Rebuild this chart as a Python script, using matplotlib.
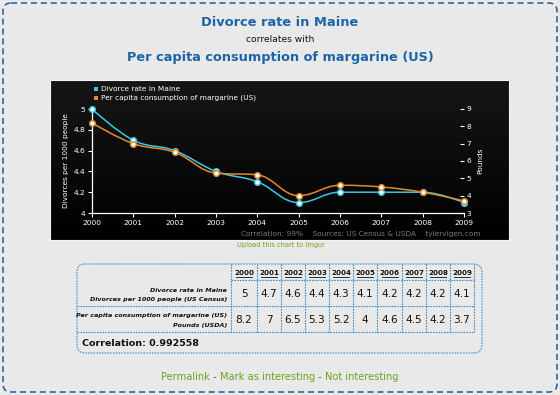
import matplotlib
matplotlib.use("Agg")
import matplotlib.pyplot as plt
import numpy as np
from matplotlib.patches import FancyBboxPatch, Rectangle, PathPatch
from matplotlib.path import Path
from matplotlib.colors import LinearSegmentedColormap
from matplotlib.offsetbox import TextArea, HPacker, AnchoredOffsetbox

years = [2000, 2001, 2002, 2003, 2004, 2005, 2006, 2007, 2008, 2009]
divorce = [5, 4.7, 4.6, 4.4, 4.3, 4.1, 4.2, 4.2, 4.2, 4.1]
margarine = [8.2, 7, 6.5, 5.3, 5.2, 4, 4.6, 4.5, 4.2, 3.7]
div_ticks = [4, 4.2, 4.4, 4.6, 4.8, 5]
div_ticklabels = ["4", "4.2", "4.4", "4.6", "4.8", "5"]
marg_ticks = [3, 4, 5, 6, 7, 8, 9]
series1_name = "Divorce rate in Maine"
series2_name = "Per capita consumption of margarine (US)"
div_table = ["5", "4.7", "4.6", "4.4", "4.3", "4.1", "4.2", "4.2", "4.2", "4.1"]
marg_table = ["8.2", "7", "6.5", "5.3", "5.2", "4", "4.6", "4.5", "4.2", "3.7"]

BLUE_T = "#1c64a8"
CYAN = "#3cc8e6"
ORANGE = "#e08c28"
GREEN = "#6fa21c"
DASH = "#3d8fcc"
FONT = "DejaVu Sans"

W, H = 560, 395
fig = plt.figure(figsize=(W / 100, H / 100), dpi=100)
fig.patch.set_facecolor("#e9e9e9")

bg = fig.add_axes([0, 0, 1, 1])
bg.set_xlim(0, W)
bg.set_ylim(H, 0)
bg.axis("off")

# outer dashed border
bg.add_patch(FancyBboxPatch((3, 3), W - 6, H - 6, boxstyle="round,pad=0,rounding_size=8",
                            fill=False, ec="#1f5c99", lw=1.1, ls=(0, (4, 2.5))))

# titles
bg.text(280, 22, "Divorce rate in Maine", ha="center", va="center", color=BLUE_T,
        fontsize=9.4, fontweight="bold", family=FONT)
bg.text(280, 40, "correlates with", ha="center", va="center", color="#111",
        fontsize=6.6, family=FONT)
bg.text(280, 57, "Per capita consumption of margarine (US)", ha="center", va="center",
        color=BLUE_T, fontsize=9.3, fontweight="bold", family=FONT)

# black panel with slight gradient
grad = np.linspace(0, 1, 100).reshape(-1, 1)
cm = LinearSegmentedColormap.from_list("g", ["#161616", "#000000"])
bg.imshow(grad, extent=(50, 509, 240, 80), cmap=cm, aspect="auto", zorder=1)
bg.add_patch(Rectangle((50, 80), 459, 160, fill=False, ec="#f4f4f4", lw=0.8, zorder=2))

bg.text(481, 234, "Correlation: 99%    Sources: US Census & USDA    tylervigen.com",
        ha="right", va="center", color="#7a7a7a", fontsize=5.3, family=FONT, zorder=3)
bg.text(281, 245, "Upload this chart to imgur", ha="center", va="center", color=GREEN,
        fontsize=4.8, family=FONT)

# chart axes
ax_l, ax_r, ax_b, ax_t = 92, 464, 213, 109
ax = fig.add_axes([ax_l / W, 1 - ax_b / H, (ax_r - ax_l) / W, (ax_b - ax_t) / H])
ax.set_facecolor("none")
ax2 = ax.twinx()
ax.set_xlim(years[0], years[-1])
ax.set_ylim(4, 5)
ax2.set_ylim(3, 9)


def spline_path(xs, ys, sm=1.5):
    verts = [(xs[0], ys[0])]
    codes = [Path.MOVETO]
    n = len(xs)
    rc = [None] * n
    lc = [None] * n
    for i in range(1, n - 1):
        d = sm + 1
        lx = (sm * xs[i] + xs[i - 1]) / d
        ly = (sm * ys[i] + ys[i - 1]) / d
        rx = (sm * xs[i] + xs[i + 1]) / d
        ry = (sm * ys[i] + ys[i + 1]) / d
        if rx != lx:
            corr = (ry - ly) * (rx - xs[i]) / (rx - lx) + ys[i] - ry
            ly += corr
            ry += corr
        if ly > ys[i - 1] and ly > ys[i]:
            ly = max(ys[i - 1], ys[i]); ry = 2 * ys[i] - ly
        elif ly < ys[i - 1] and ly < ys[i]:
            ly = min(ys[i - 1], ys[i]); ry = 2 * ys[i] - ly
        if ry > ys[i + 1] and ry > ys[i]:
            ry = max(ys[i + 1], ys[i]); ly = 2 * ys[i] - ry
        elif ry < ys[i + 1] and ry < ys[i]:
            ry = min(ys[i + 1], ys[i]); ly = 2 * ys[i] - ry
        lc[i] = (lx, ly)
        rc[i] = (rx, ry)
    rc[0] = (xs[0], ys[0])
    lc[n - 1] = (xs[-1], ys[-1])
    for i in range(1, n):
        verts += [rc[i - 1], lc[i], (xs[i], ys[i])]
        codes += [Path.CURVE4] * 3
    return Path(verts, codes)


for a, ys, col in [(ax2, margarine, ORANGE), (ax, divorce, CYAN)]:
    p = spline_path(years, ys)
    a.add_patch(PathPatch(p, fill=False, ec=col, lw=1.1, zorder=3, clip_on=False))
    a.plot(years, ys, ls="none", marker="o", ms=4, mfc="white", mec=col, mew=1.1,
           zorder=4, clip_on=False)

ax.set_xticks(years)
ax.set_xticklabels([str(y) for y in years], color="white", fontsize=5.4, family=FONT)
ax.set_yticks(div_ticks)
ax.set_yticklabels(div_ticklabels, color="white", fontsize=5.4, family=FONT)
ax2.set_yticks(marg_ticks)
ax2.set_yticklabels([str(t) for t in marg_ticks], color="white", fontsize=5.4, family=FONT)
ax.tick_params(axis="x", colors="white", length=3, width=0.8, pad=2, direction="out")
ax.tick_params(axis="y", colors="white", length=3, width=0.8, pad=2)
ax2.tick_params(axis="y", colors="white", length=3, width=0.8, pad=2, direction="in")
for s in ["top", "right"]:
    ax.spines[s].set_visible(False)
for s in ["top", "right", "left", "bottom"]:
    ax2.spines[s].set_visible(False)
ax.spines["left"].set_color("white")
ax.spines["bottom"].set_color("white")
ax.spines["left"].set_linewidth(0.9)
ax.spines["bottom"].set_linewidth(0.9)
ax.set_ylabel("Divorces per 1000 people", color="white", fontsize=5.3, family=FONT, labelpad=3)
ax2.set_ylabel("Pounds", color="white", fontsize=5.3, family=FONT, rotation=90, labelpad=4)

# legend drawn manually in pixel coords
for yy, col, name in [(89, CYAN, series1_name), (98, ORANGE, series2_name)]:
    bg.add_patch(Rectangle((93.5, yy - 2), 4, 4, fc=col, ec="none", zorder=3))
    bg.text(101, yy, name, color="white", fontsize=5.3, va="center", ha="left",
            family=FONT, zorder=3)

# table
bg.add_patch(FancyBboxPatch((77, 264), 405, 89, boxstyle="round,pad=0,rounding_size=8",
                            fill=False, ec=DASH, lw=0.8, ls=(0, (1.5, 1))))
col_edges = [231, 257, 281, 305, 329, 353, 377, 402, 426, 450, 474]
dash = dict(color=DASH, lw=0.8, ls=(0, (1.5, 1)))
for x in col_edges:
    bg.plot([x, x], [264, 332], **dash)
bg.plot([col_edges[0], col_edges[-1]], [280, 280], **dash)
for y in [306, 332]:
    bg.plot([77, col_edges[-1]], [y, y], **dash)

for i, yr in enumerate(years):
    cx = (col_edges[i] + col_edges[i + 1]) / 2
    bg.text(cx, 273, str(yr), ha="center", va="center", fontsize=5.1, fontweight="bold",
            color="#111", family=FONT)
    bg.plot([cx - 8, cx + 8], [277, 277], color="#111", lw=0.6)
    bg.text(cx, 294, div_table[i], ha="center", va="center", fontsize=7.6, color="#111",
            family=FONT)
    bg.text(cx, 320, marg_table[i], ha="center", va="center", fontsize=7.6, color="#111",
            family=FONT)

lab = dict(ha="right", va="center", fontsize=4.6, fontweight="bold", style="italic",
           color="#111", family=FONT)
bg.text(227, 290, "Divorce rate in Maine", **lab)
bg.text(227, 299, "Divorces per 1000 people (US Census)", **lab)
bg.text(227, 315, "Per capita consumption of margarine (US)", **lab)
bg.text(227, 325, "Pounds (USDA)", **lab)
bg.text(82, 343, "Correlation: 0.992558", ha="left", va="center", fontsize=6.8,
        fontweight="bold", color="#111", family=FONT)

# bottom links
parts = [("Permalink", GREEN), (" - ", "#555"), ("Mark as interesting", GREEN),
         (" - ", "#555"), ("Not interesting", GREEN)]
boxes = [TextArea(s, textprops=dict(color=c, fontsize=7.1, family=FONT)) for s, c in parts]
pk = HPacker(children=boxes, align="center", pad=0, sep=0)
ab = AnchoredOffsetbox(loc="center", child=pk, frameon=False,
                       bbox_to_anchor=(280 / W, 1 - 377 / H), bbox_transform=fig.transFigure,
                       pad=0, borderpad=0)
bg.add_artist(ab)

fig.savefig("out.png", dpi=100, facecolor=fig.get_facecolor())
